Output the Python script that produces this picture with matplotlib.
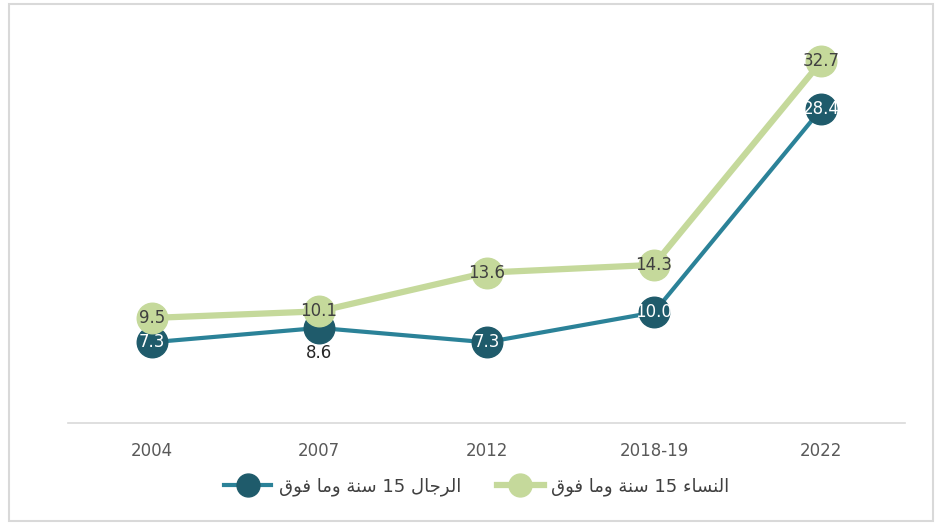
import matplotlib
matplotlib.use("Agg")
import matplotlib.pyplot as plt
from matplotlib.patches import Rectangle

# data
years = ["2004", "2007", "2012", "2018-19", "2022"]
men = [7.3, 8.6, 7.3, 10.0, 28.4]
women = [9.5, 10.1, 13.6, 14.3, 32.7]

# Arabic labels written in visual order with presentation forms (no shaping engine in matplotlib)
w_fawq = "\ufed5\ufeee\ufed3"
w_wama = "\ufe8e\ufee3\ufeed"
w_sana = "\ufe94\ufee8\ufeb3"
w_rijal = "\ufedd\ufe8e\ufe9f\ufeae\ufedf\ufe8d"
w_nisa = "\ufe80\ufe8e\ufeb4\ufee8\ufedf\ufe8d"
men_label = f"{w_fawq} {w_wama} {w_sana} 15 {w_rijal}"
women_label = f"{w_fawq} {w_wama} {w_sana} 15 {w_nisa}"

MEN_LINE = "#2b8298"
MEN_DOT = "#1f5b6b"
WOMEN = "#c5d99b"
TXT = "#404040"

plt.rcParams["font.family"] = ["DejaVu Sans"]

fig = plt.figure(figsize=(9.35, 5.23), dpi=100)
ax = fig.add_axes([68 / 935, 100 / 523, 837 / 935, 387 / 523])

x = list(range(len(years)))
ax.plot(x, men, color=MEN_LINE, lw=3, marker="o", ms=22,
        mfc=MEN_DOT, mec=MEN_DOT, zorder=3, label=men_label)
ax.plot(x, women, color=WOMEN, lw=4.5, marker="o", ms=22,
        mfc=WOMEN, mec=WOMEN, zorder=4, label=women_label)

for i, v in enumerate(men):
    if i == 1:
        ax.annotate(f"{v:.1f}", (i, v), xytext=(0, -18), textcoords="offset points",
                    ha="center", va="center", fontsize=12, color="#262626", zorder=6)
    else:
        ax.text(i, v, f"{v:.1f}", ha="center", va="center", fontsize=12,
                color="white", zorder=6)
for i, v in enumerate(women):
    ax.text(i, v, f"{v:.1f}", ha="center", va="center", fontsize=12,
            color=TXT, zorder=6)

ax.set_xlim(-0.5, len(years) - 0.5)
ax.set_ylim(0, 35)
ax.set_xticks(x)
ax.set_xticklabels(years, fontsize=12, color="#595959")
ax.tick_params(axis="x", length=0, pad=14)
ax.set_yticks([])
for s in ["top", "right", "left"]:
    ax.spines[s].set_visible(False)
ax.spines["bottom"].set_color("#d9d9d9")
ax.spines["bottom"].set_linewidth(1.2)

fig.legend(loc="center", bbox_to_anchor=(0.51, 0.069), ncol=2, frameon=False,
           fontsize=13, handlelength=2.6, handletextpad=0.4, columnspacing=2.0,
           markerscale=0.75, labelcolor="#404040")

fig.patches.append(Rectangle((9 / 935, 2 / 523), 924 / 935, 517 / 523,
                             transform=fig.transFigure, fill=False,
                             edgecolor="#d9d9d9", lw=1.5))

fig.savefig("out.png", dpi=100)
